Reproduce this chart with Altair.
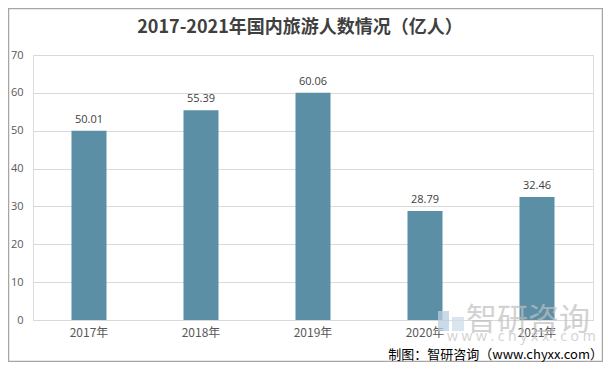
import altair as alt
import pandas as pd

years = ["2017年", "2018年", "2019年", "2020年", "2021年"]
values = [50.01, 55.39, 60.06, 28.79, 32.46]
y_ticks = [0, 10, 20, 30, 40, 50, 60, 70]
title_text = "2017-2021年国内旅游人数情况（亿人）"
source_text = "制图：智研咨询（www.chyxx.com）"
watermark_text = "智研咨询"
watermark_url = "w w w . c h y x x . c o m"

df = pd.DataFrame({"year": years, "value": values})
df["label"] = [f"{v:.2f}" for v in values]

FONT = "Open Sans"
CJK = "Noto Sans CJK SC"

x_enc = alt.X("year:N", sort=years,
              scale=alt.Scale(paddingInner=0.6875, paddingOuter=0.34375),
              axis=alt.Axis(title=None, labelAngle=0, labelFont=CJK, labelFontSize=12,
                            labelColor="#595959", labelPadding=7, ticks=False,
                            domainColor="#d9d9d9", domainWidth=1))
y_enc = alt.Y("value:Q", scale=alt.Scale(domain=[0, 70], nice=False),
              axis=alt.Axis(title=None, values=y_ticks, labelFont=FONT, labelFontSize=11,
                            labelColor="#595959", labelPadding=10, ticks=False, domain=False,
                            gridColor="#d9d9d9", gridWidth=1, labelOverlap=False))

base = alt.Chart(df)
bars = base.mark_bar(color="#5b8fa6").encode(x=x_enc, y=y_enc)
labels = base.mark_text(font=FONT, fontSize=11, color="#404040", baseline="bottom", dy=-6).encode(
    x=x_enc, y=y_enc, text="label:N")

one = pd.DataFrame({"a": [1]})
logo1 = alt.Chart(one).mark_rect(color="#b9cde2", opacity=0.75).encode(
    x=alt.value(405), x2=alt.value(416), y=alt.value(256), y2=alt.value(276))
logo2 = alt.Chart(one).mark_rect(color="#cfdcea", opacity=0.75).encode(
    x=alt.value(419), x2=alt.value(431), y=alt.value(262), y2=alt.value(276))
watermark = alt.Chart(pd.DataFrame({"t": [watermark_text]})).mark_text(
    font=CJK, fontSize=31, color="#bfbfbf", opacity=0.7, align="left", baseline="middle").encode(
    x=alt.value(433), y=alt.value(266), text="t:N")
wm2 = alt.Chart(pd.DataFrame({"t": [watermark_url]})).mark_text(
    font=FONT, fontSize=14, color="#c8c8c8", opacity=0.8, align="left", baseline="middle").encode(
    x=alt.value(414), y=alt.value(282), text="t:N")

src = alt.Chart(pd.DataFrame({"t": [source_text]})).mark_text(
    font=CJK, fontSize=13, color="#000000", align="right", baseline="middle").encode(
    x=alt.value(570), y=alt.value(300), text="t:N")
ttl = alt.Chart(pd.DataFrame({"t": [title_text]})).mark_text(
    font=CJK, fontSize=18, fontWeight="bold", color="#404040", align="center", baseline="middle").encode(
    x=alt.value(267), y=alt.value(-27), text="t:N")
border = alt.Chart(one).mark_rect(fill=None, stroke="#a6a6a6", strokeWidth=1.5).encode(
    x=alt.value(-24.5), x2=alt.value(569.5), y=alt.value(-46.5), y2=alt.value(306.5))

chart = alt.layer(border, bars, labels, logo1, logo2, watermark, wm2, src, ttl).properties(
    width=560, height=265,
    autosize=alt.AutoSizeParams(type="none"),
    padding={"left": 25, "top": 47, "right": 10, "bottom": 42},
).configure_view(strokeWidth=0).configure(background="white")

chart.save("out.html", embed_options={"renderer": "svg", "actions": False})
